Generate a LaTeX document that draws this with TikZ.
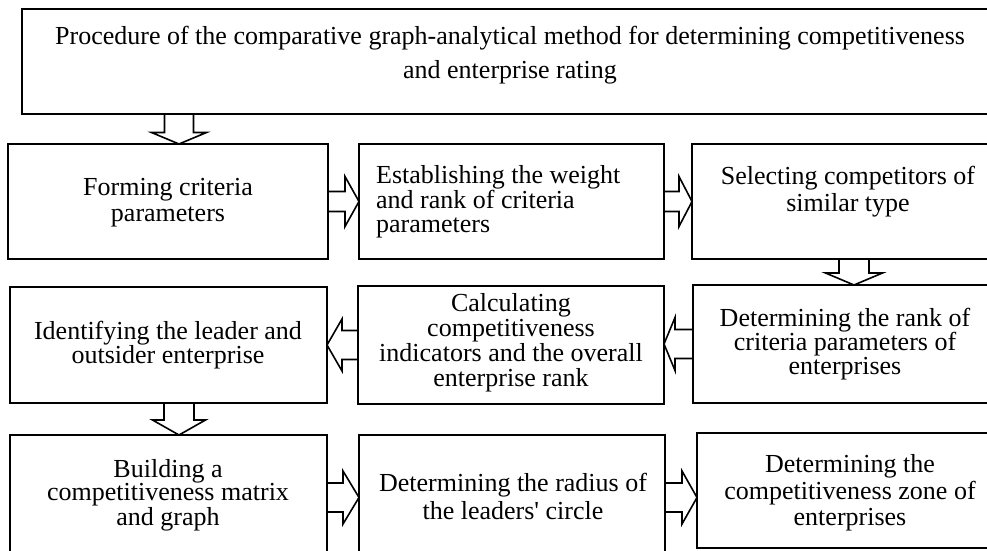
\documentclass[tikz,border=0pt]{standalone}
\usepackage{fontspec}
\setmainfont{Liberation Serif}[Ligatures=TeXOff]
\usetikzlibrary{calc}
\tikzset{
  box/.style={draw=black, line width=1.6pt, inner sep=0pt, outer sep=0pt, anchor=north west},
  txt/.style={font=\fontsize{26}{24}\selectfont, align=center, inner sep=0pt},
  arrowline/.style={draw=black, line width=1.6pt, line join=miter}
}
% #1 start, #2 tip, #3 stem half width, #4 head half width, #5 head length
\newcommand{\blockarr}[5]{%
  \path ($(#2)!#5pt!(#1)$) coordinate (hbc);
  \draw[arrowline] ($(#1)!#3pt!90:(#2)$) -- ($(hbc)!#3pt!90:(#2)$) -- ($(hbc)!#4pt!90:(#2)$)
    -- (#2) -- ($(hbc)!#4pt!-90:(#2)$) -- ($(hbc)!#3pt!-90:(#2)$) -- ($(#1)!#3pt!-90:(#2)$);
}
\begin{document}
\begin{tikzpicture}[x=1pt, y=-1pt]
\useasboundingbox (0,0) rectangle (987,551);
% boxes
\node[box, minimum width=973pt, minimum height=105pt] (top) at (22,9) {};
\node[box, minimum width=320pt, minimum height=115pt] (b1) at (8,144) {};
\node[box, minimum width=305pt, minimum height=115pt] (b2) at (359,144) {};
\node[box, minimum width=303pt, minimum height=115pt] (b3) at (692,144) {};
\node[box, minimum width=317pt, minimum height=116pt] (b4) at (10,287) {};
\node[box, minimum width=306pt, minimum height=118pt] (b5) at (358,286) {};
\node[box, minimum width=302pt, minimum height=118pt] (b6) at (693,285) {};
\node[box, minimum width=317pt, minimum height=125pt] (b7) at (10,435) {};
\node[box, minimum width=306pt, minimum height=125pt] (b8) at (359,435) {};
\node[box, minimum width=298pt, minimum height=115pt] (b9) at (697,433) {};
% texts
\node[txt, font=\fontsize{26}{34}\selectfont] (t0) at (510,55) {Procedure of the comparative graph-analytical method for determining competitiveness\\and enterprise rating};
\node[txt, font=\fontsize{26}{26}\selectfont] (t1) at (168,203) {Forming criteria\\parameters};
\node[txt, align=left, anchor=west, font=\fontsize{26}{24.5}\selectfont] (t2) at (376,202) {Establishing the weight\\and rank of criteria\\parameters};
\node[txt, font=\fontsize{26}{27}\selectfont] (t3) at (848,192) {Selecting competitors of\\similar type};
\node[txt] (t4) at (168,345) {Identifying the leader and\\outsider enterprise};
\node[txt, font=\fontsize{26}{25}\selectfont] (t5) at (511,343) {Calculating\\competitiveness\\indicators and the overall\\enterprise rank};
\node[txt, font=\fontsize{26}{22.5}\selectfont] (t6) at (845,344) {Determining the rank of\\criteria parameters of\\enterprises};
\node[txt, font=\fontsize{26}{22.5}\selectfont] (t7) at (168,495) {Building a\\competitiveness matrix\\and graph};
\node[txt, font=\fontsize{26}{28}\selectfont] (t8) at (513,496) {Determining the radius of\\the leaders' circle};
\node[txt, font=\fontsize{26}{26.5}\selectfont] (t9) at (850,493) {Determining the\\competitiveness zone of\\enterprises};
% arrow end points
\coordinate (d1t) at ([xshift=171pt]b1.north west);
\coordinate (d1s) at (top.south -| d1t);
\coordinate (d2t) at ([xshift=161pt]b6.north west);
\coordinate (d2s) at (b3.south -| d2t);
\coordinate (d3t) at ([xshift=169pt]b7.north west);
\coordinate (d3s) at (b4.south -| d3t);
\coordinate (r1t) at (b1.east -| b2.west);
\coordinate (r2t) at (b2.east -| b3.west);
\coordinate (l1t) at (b6.west -| b5.east);
\coordinate (l2t) at (b5.west -| b4.east);
\coordinate (r3t) at (b7.east -| b8.west);
\coordinate (r4t) at (b8.east -| b9.west);
% arrows
\blockarr{d1s}{d1t}{14.5}{27.5}{11.5}
\blockarr{b1.east}{r1t}{10}{25}{14}
\blockarr{b2.east}{r2t}{10}{25}{13}
\blockarr{d2s}{d2t}{15}{28.5}{12}
\blockarr{b6.west}{l1t}{14.5}{26.5}{11}
\blockarr{b5.west}{l2t}{14.5}{26}{15}
\blockarr{d3s}{d3t}{15}{26.5}{15}
\blockarr{b7.east}{r3t}{14.5}{26.5}{16}
\blockarr{b8.east}{r4t}{14.5}{26.5}{15}
\end{tikzpicture}
\end{document}
